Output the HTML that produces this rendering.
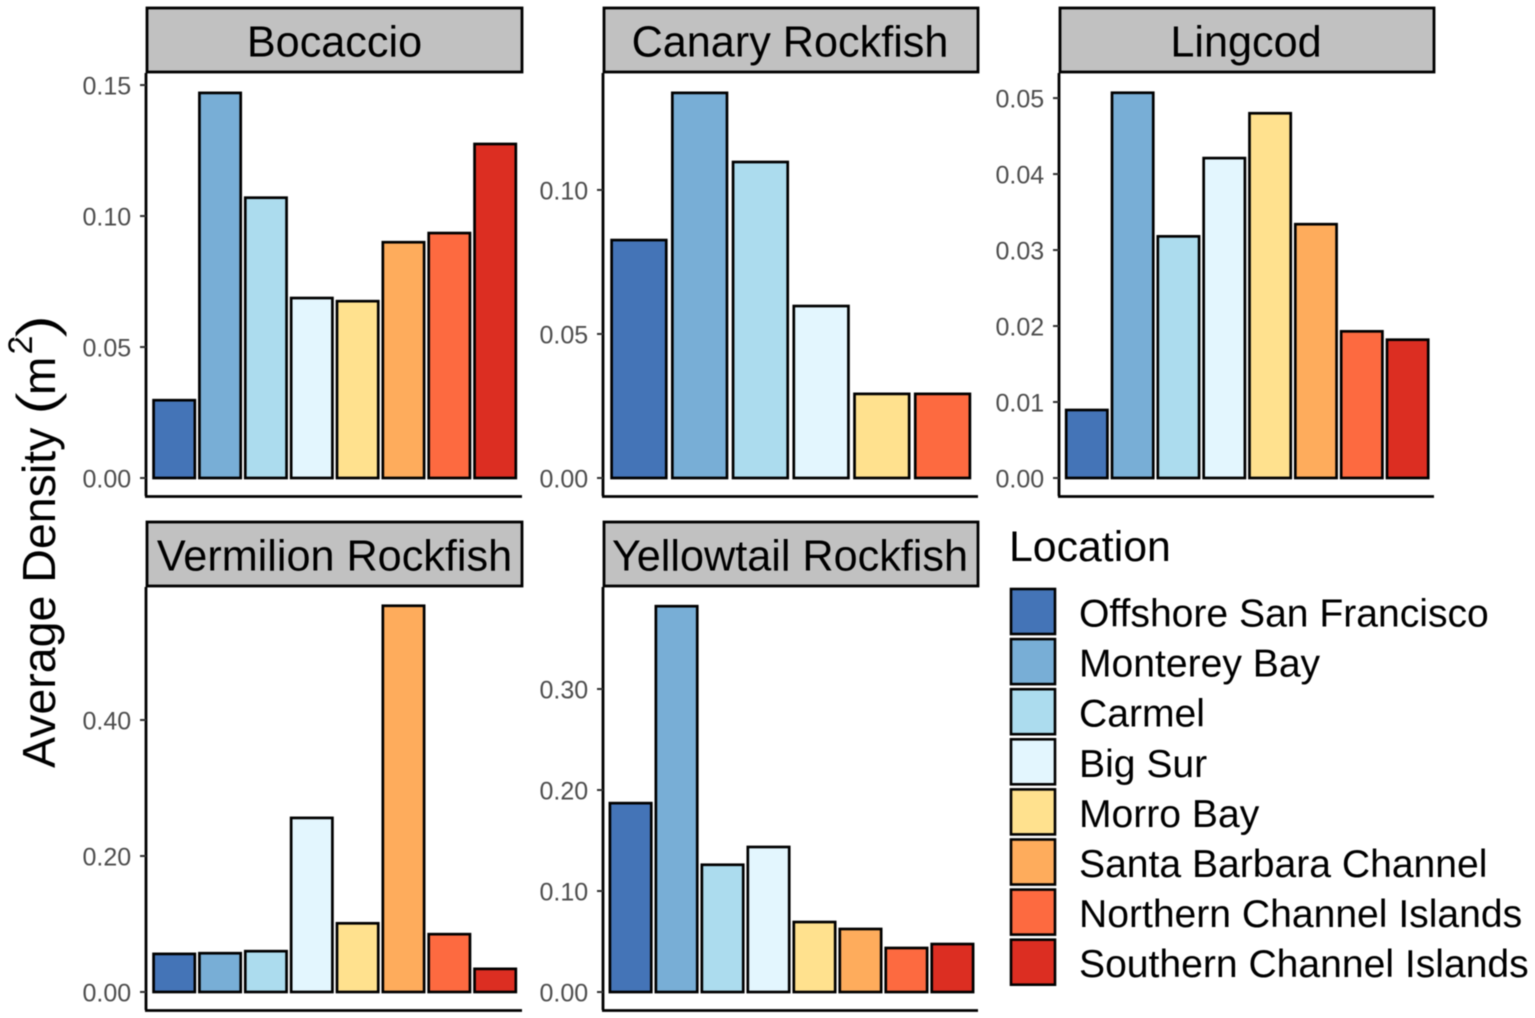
<!DOCTYPE html>
<html lang="en">
<head>
<meta charset="utf-8">
<title>Average Density by Location</title>
<style>
html,body{margin:0;padding:0;background:#fff;width:1535px;height:1018px;overflow:hidden}
svg{display:block;filter:blur(0.5px);font-family:"Liberation Sans",Arial,sans-serif}
</style>
</head>
<body>
<svg id="chart" xmlns="http://www.w3.org/2000/svg" width="1535" height="1018" viewBox="0 0 1535 1018">
<rect x="0" y="0" width="1535" height="1018" fill="#fff"/>
<g fill="#000">
<text transform="translate(55,768) rotate(-90)" font-size="46.5">Average Density</text>
<text transform="translate(55.5,416) rotate(-90) scale(1.35,1)" font-size="56" stroke="#fff" stroke-width="1.3" vector-effect="non-scaling-stroke">(</text>
<text transform="translate(55,395) rotate(-90)" font-size="46">m</text>
<text transform="translate(32,354.5) rotate(-90)" font-size="34">2</text>
<text transform="translate(55.5,339) rotate(-90) scale(1.35,1)" font-size="56" stroke="#fff" stroke-width="1.3" vector-effect="non-scaling-stroke">)</text>
</g>
<g id="panels"></g>
<g id="legend">
<text x="1009" y="561" font-size="42.8" fill="#000">Location</text>
</g>
</svg>
<script>
const locations = ["Offshore San Francisco","Monterey Bay","Carmel","Big Sur","Morro Bay","Santa Barbara Channel","Northern Channel Islands","Southern Channel Islands"];
const locationColors = ["#4474b7","#78aed6","#acdcee","#e3f6fe","#ffe18e","#feac5c","#fd6a40","#dc2e22"];

const bocaccioCategories = ["Offshore San Francisco","Monterey Bay","Carmel","Big Sur","Morro Bay","Santa Barbara Channel","Northern Channel Islands","Southern Channel Islands"];
const bocaccioValues = [0.0297,0.147,0.107,0.0687,0.0675,0.09,0.0935,0.1275];
const bocaccioTicks = ["0.00","0.05","0.10","0.15"];
const bocaccioDomain = [-0.00687,0.1546];

const canaryCategories = ["Offshore San Francisco","Monterey Bay","Carmel","Big Sur","Morro Bay","Northern Channel Islands"];
const canaryValues = [0.0826,0.1337,0.1097,0.0597,0.0292,0.0292];
const canaryTicks = ["0.00","0.05","0.10"];
const canaryDomain = [-0.00625,0.1406];

const lingcodCategories = ["Offshore San Francisco","Monterey Bay","Carmel","Big Sur","Morro Bay","Santa Barbara Channel","Northern Channel Islands","Southern Channel Islands"];
const lingcodValues = [0.00895,0.0507,0.0318,0.0421,0.048,0.0334,0.0193,0.0182];
const lingcodTicks = ["0.00","0.01","0.02","0.03","0.04","0.05"];
const lingcodDomain = [-0.00237,0.0533];

const vermilionCategories = ["Offshore San Francisco","Monterey Bay","Carmel","Big Sur","Morro Bay","Santa Barbara Channel","Northern Channel Islands","Southern Channel Islands"];
const vermilionValues = [0.056,0.057,0.06,0.256,0.101,0.568,0.085,0.034];
const vermilionTicks = ["0.00","0.20","0.40"];
const vermilionDomain = [-0.0265,0.5956];

const yellowtailCategories = ["Offshore San Francisco","Monterey Bay","Carmel","Big Sur","Morro Bay","Santa Barbara Channel","Northern Channel Islands","Southern Channel Islands"];
const yellowtailValues = [0.187,0.382,0.126,0.1436,0.0693,0.0624,0.0436,0.0475];
const yellowtailTicks = ["0.00","0.10","0.20","0.30"];
const yellowtailDomain = [-0.0178,0.401];

const SVG_NS = "http://www.w3.org/2000/svg";

function make(tag, attrs, parent, text) {
  const el = document.createElementNS(SVG_NS, tag);
  for (const k in attrs) el.setAttribute(k, attrs[k]);
  if (text !== undefined) el.textContent = text;
  parent.appendChild(el);
  return el;
}

function slug(s) {
  return s.toLowerCase().replace(/[^a-z0-9]+/g, "-");
}

function drawPanel(title, categories, values, ticks, domain, left, right, top, bottom, barShift, stepAdjust, labelShift) {
  const panels = document.getElementById("panels");
  const key = slug(title);
  const g = make("g", {}, panels);
  
  

  const xStep = (right - left + stepAdjust) / (categories.length + 0.2);
  const xCenter = function (i) { return left + barShift + (i + 0.6) * xStep; };
  const yScale = function (v) { return bottom - (v - domain[0]) / (domain[1] - domain[0]) * (bottom - top); };

  const strip = make("rect", {x: left + 1, y: top - 65, width: right - left - 1, height: 64, fill: "#c1c1c1", stroke: "#000", "stroke-width": 2.8}, g);
  
  

  const stripLabel = make("text", {x: (left + right) / 2 + labelShift, y: top - 16.6, "text-anchor": "middle", "font-size": 43.2, fill: "#000"}, g, title);
  
  

  values.forEach(function (v, i) {
    const barWidth = xStep * 0.9;
    const cat = categories[i];
    const y = yScale(v);
    const bar = make("rect", {
      x: xCenter(i) - barWidth / 2,
      y: y,
      width: barWidth,
      height: yScale(0) - y,
      fill: locationColors[locations.indexOf(cat)],
      stroke: "#000",
      "stroke-width": 2.7
    }, g);
    
    
  });

  const yAxis = make("line", {x1: left, x2: left, y1: top, y2: bottom, stroke: "#000", "stroke-width": 2.8}, g);
  
  

  const xAxis = make("line", {x1: left - 1, x2: right, y1: bottom + 0.5, y2: bottom + 0.5, stroke: "#000", "stroke-width": 2.8}, g);
  
  

  ticks.forEach(function (label) {
    const y = yScale(parseFloat(label));
    const tick = make("line", {x1: left - 6, x2: left, y1: y, y2: y, stroke: "#333", "stroke-width": 2}, g);
    
    
    const tickLabel = make("text", {x: left - 14.8, y: y + 9.4, "text-anchor": "end", "font-size": 25, fill: "#4d4d4d"}, g, label);
    
    
  });
}

function drawLegend() {
  const legend = document.getElementById("legend");
  locations.forEach(function (name, i) {
    const y = 589 + i * 50.1;
    const swatch = make("rect", {x: 1011, y: y, width: 44, height: 45, fill: locationColors[i], stroke: "#000", "stroke-width": 2.6}, legend);
    
    
    const label = make("text", {x: 1079, y: y + 37.5, "font-size": 39.1, fill: "#000"}, legend, name);
    
    
  });
}

drawPanel("Bocaccio", bocaccioCategories, bocaccioValues, bocaccioTicks, bocaccioDomain, 146, 522, 73, 496, 0.7, 0, 0.5);
drawPanel("Canary Rockfish", canaryCategories, canaryValues, canaryTicks, canaryDomain, 603, 978, 73, 496, -0.5, 1.5, -0.5);
drawPanel("Lingcod", lingcodCategories, lingcodValues, lingcodTicks, lingcodDomain, 1059, 1434, 73, 496, 0.3, 0.8, -0.5);
drawPanel("Vermilion Rockfish", vermilionCategories, vermilionValues, vermilionTicks, vermilionDomain, 146, 522, 587, 1010, 0.7, 0, 0.5);
drawPanel("Yellowtail Rockfish", yellowtailCategories, yellowtailValues, yellowtailTicks, yellowtailDomain, 603, 978, 587, 1010, 0, 2, -0.5);
drawLegend();
</script>
</body>
</html>
